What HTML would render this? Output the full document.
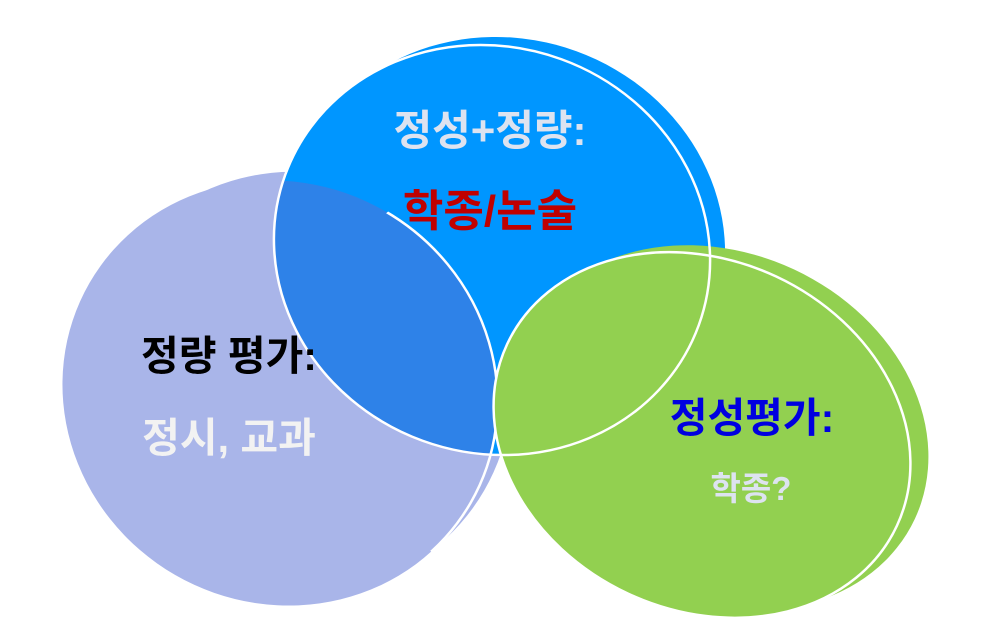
<!DOCTYPE html>
<html><head><meta charset="utf-8"><style>
html,body{margin:0;padding:0;background:#fff;width:995px;height:625px;overflow:hidden;}
svg{display:block;}
text{font-family:"Liberation Sans","Noto Sans CJK KR","NanumGothic",sans-serif;font-weight:bold;text-anchor:middle;}
</style></head><body>
<svg width="995" height="625" viewBox="0 0 995 625">
<defs>
<clipPath id="cb"><ellipse cx="492" cy="250" rx="220" ry="203" transform="rotate(20 492 250)"/></clipPath>
</defs>
<ellipse cx="298" cy="383" rx="215" ry="210" transform="rotate(30 298 383)" fill="#a9b5e9"/>
<ellipse cx="280" cy="393" rx="220" ry="210" transform="rotate(30 280 393)" fill="#a9b5e9"/>
<ellipse cx="507" cy="242" rx="220" ry="203" transform="rotate(20 507 242)" fill="#0096ff"/>
<ellipse cx="492" cy="250" rx="220" ry="203" transform="rotate(20 492 250)" fill="#0096ff"/>
<g clip-path="url(#cb)">
<ellipse cx="280" cy="393" rx="220" ry="210" transform="rotate(30 280 393)" fill="#2e82e8"/>
</g>
<ellipse cx="280" cy="393" rx="220" ry="210" transform="rotate(30 280 393)" fill="none" stroke="#fff" stroke-width="2.5" clip-path="url(#cb)"/>
<ellipse cx="720" cy="428" rx="215" ry="175" transform="rotate(25 720 428)" fill="#92d050"/>
<ellipse cx="702" cy="435" rx="215" ry="175" transform="rotate(25 702 435)" fill="#92d050" stroke="#fff" stroke-width="2.5"/>
<ellipse cx="492" cy="250" rx="220" ry="203" transform="rotate(20 492 250)" fill="none" stroke="#fff" stroke-width="2.5"/>
<text x="490" y="145" font-size="42" fill="#dde3f0">정성+정량:</text>
<text x="490" y="226" font-size="44" fill="#c00000">학종/논술</text>
<text x="229" y="370" font-size="41" fill="#000">정량 평가:</text>
<text x="229" y="452" font-size="41" fill="#f2f2f2">정시, 교과</text>
<text x="752" y="432" font-size="41" fill="#0000e0">정성평가:</text>
<text x="751" y="500" font-size="33" fill="#dde3f0">학종?</text>
</svg>
</body></html>
